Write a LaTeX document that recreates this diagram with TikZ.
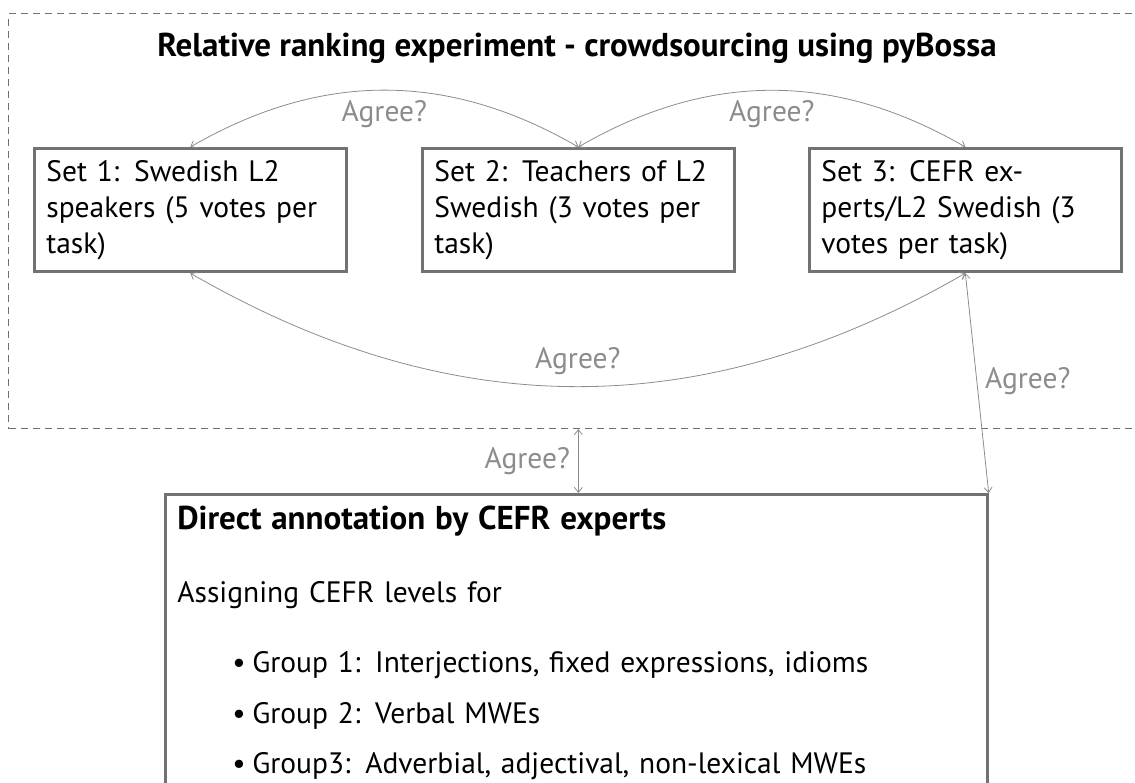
\documentclass[tikz,border=0pt]{standalone}
\usepackage{fontspec}
\setmainfont{PT Sans}
\usetikzlibrary{arrows.meta}
\definecolor{boxgray}{HTML}{727272}
\definecolor{arrgray}{HTML}{8C8C8C}
\definecolor{framegray}{HTML}{707070}
\begin{document}
\begin{tikzpicture}[x=1pt,y=1pt,
  txt/.style={font=\fontsize{29.5}{36}\selectfont},
  boldtxt/.style={font=\fontsize{33}{36}\selectfont\bfseries},
  setbox/.style={txt, draw=boxgray, line width=2.7pt, text width=288pt, align=left, inner sep=12pt, anchor=north west},
  annbox/.style={txt, draw=boxgray, line width=2.7pt, text width=798pt, align=left, inner sep=12pt, anchor=north west},
  dashframe/.style={draw=framegray, line width=1.1pt, dash pattern=on 7pt off 5pt, minimum width=1200pt, minimum height=415pt, anchor=north west, inner sep=0pt},
  agree/.style={<->, >={Straight Barb[length=5pt,width=8pt]}, draw=arrgray, line width=0.8pt},
  lab/.style={txt, text=arrgray, inner sep=2pt}]
\useasboundingbox (0,0) rectangle (1135,-783);
\clip (0,0) rectangle (1135,-783);
\node[dashframe] (dframe) at (8,-13) {};
\node[boldtxt, anchor=base] (title) at (577,-57) {Relative ranking experiment - crowdsourcing using pyBossa};
\node[setbox] (s1) at (33,-147) {Set 1: Swedish L2\\speakers (5 votes per\\task)};
\node[setbox] (s2) at (421,-147) {Set 2: Teachers of L2\\Swedish (3 votes per\\task)};
\node[setbox] (s3) at (808,-147) {Set 3: CEFR ex-\\perts/L2 Swedish (3\\votes per task)};
\node[annbox] (ann) at (164,-493) {{\fontsize{33}{36}\selectfont\bfseries Direct annotation by CEFR experts}\\[37pt]
Assigning CEFR levels for\\[34pt]
\hspace*{55pt}\makebox[20pt][l]{\textbullet}Group 1: Interjections, fixed expressions, idioms\\[15pt]
\hspace*{55pt}\makebox[20pt][l]{\textbullet}Group 2: Verbal MWEs\\[14pt]
\hspace*{55pt}\makebox[20pt][l]{\textbullet}Group3: Adverbial, adjectival, non-lexical MWEs\\[40pt]\mbox{}};
\draw[agree] (s1.north) to[bend left=30] node[lab, yshift=-24pt] (l1) {Agree?} (s2.north);
\draw[agree] (s2.north) to[bend left=30] node[lab, yshift=-24pt] (l2) {Agree?} (s3.north);
\draw[agree] (s1.south) to[bend right=30] node[lab, yshift=25pt] (l3) {Agree?} (s3.south);
\draw[agree] (s3.south) -- node[lab, pos=0.49, right=6pt] (l4) {Agree?} (ann.north east);
\draw[agree] (s2.south |- dframe.south) -- node[lab, left=6pt] (l5) {Agree?} (s2.south |- ann.north);
\end{tikzpicture}
\end{document}
